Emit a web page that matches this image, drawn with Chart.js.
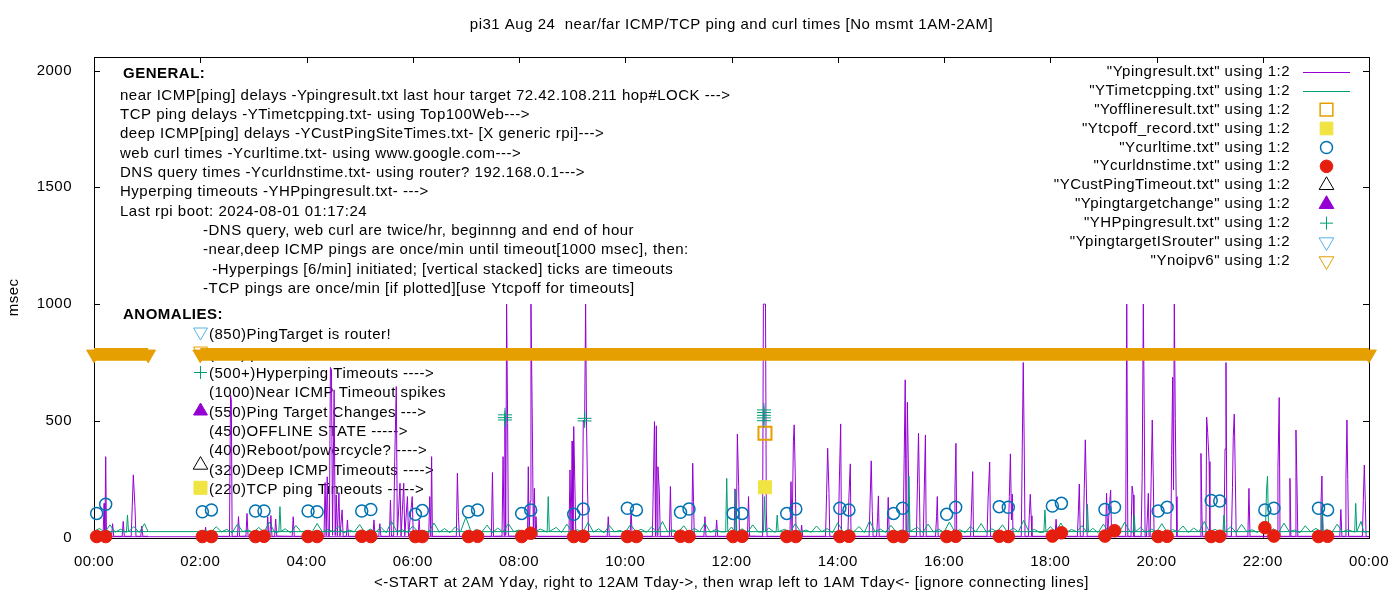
<!DOCTYPE html>
<html>
<head>
<meta charset="utf-8">
<title>pi31 ping times</title>
<script src="https://cdn.jsdelivr.net/npm/chart.js@4.4.1/dist/chart.umd.min.js"></script>
<style>
  html, body { margin: 0; padding: 0; background: #fff; }
</style>
</head>
<body>
<canvas id="pingChart" width="1400" height="600"></canvas>
<script>
// hours of day (wraps: 2AM..24, then 0..1AM), msec
const pingPoints = [
  [2.00,7],[2.08,6],[2.10,45],[2.12,6],
  [2.55,6],[2.57,611],[2.585,590],[2.60,6],
  [2.70,6],[2.72,90],[2.74,6],[2.86,7],[2.88,104],[2.90,6],
  [3.25,6],[3.27,90],[3.29,6],[3.31,7],[3.33,95],[3.35,6],
  [3.40,6],[3.42,80],[3.44,7],[3.73,6],[3.75,90],[3.77,6],
  [4.33,6],[4.35,236],[4.37,8],[4.39,261],[4.41,7],
  [4.43,6],[4.45,729],[4.47,719],[4.49,10],[4.52,633],[4.54,9],[4.56,183],[4.58,8],[4.61,193],[4.63,7],[4.67,119],[4.69,6],
  [4.75,6],[4.77,76],[4.79,6],[5.25,6],[5.27,76],[5.29,6],[5.36,6],[5.38,60],[5.40,6],
  [5.56,6],[5.58,161],[5.60,7],[5.64,8],[5.66,326],[5.69,647],[5.71,9],[5.76,233],[5.78,7],[5.83,233],[5.85,8],[5.90,176],[5.92,7],[5.99,176],[6.01,6],
  [6.10,6],[6.12,76],[6.14,6],
  [6.30,6],[6.32,176],[6.34,7],[6.355,347],[6.37,6],
  [6.82,6],[6.84,276],[6.86,90],[6.88,6],
  [7.48,6],[7.50,279],[7.52,6],
  [7.68,7],[7.70,347],[7.72,8],[7.735,519],[7.75,10],[7.767,1000],[7.786,490],[7.80,7],
  [8.16,6],[8.175,304],[8.19,8],[8.21,155],[8.225,1000],[8.25,500],[8.27,9],[8.29,211],[8.305,8],[8.32,90],[8.34,6],
  [8.94,6],[8.96,290],[8.98,8],[9.00,414],[9.015,9],[9.03,476],[9.05,240],[9.07,7],
  [9.19,7],[9.21,504],[9.235,490],[9.254,1000],[9.27,504],[9.29,204],[9.31,6],
  [9.66,6],[9.68,90],[9.70,6],[10.09,6],[10.11,119],[10.13,6],
  [10.51,6],[10.53,247],[10.55,497],[10.57,8],[10.585,479],[10.60,9],[10.615,304],[10.64,204],[10.66,6],
  [10.83,6],[10.85,219],[10.87,6],
  [11.25,6],[11.27,319],[11.285,155],[11.30,6],
  [11.48,6],[11.50,90],[11.52,6],[11.70,6],[11.72,76],[11.74,6],
  [12.05,6],[12.066,209],[12.09,8],[12.11,444],[12.135,219],[12.15,6],
  [12.30,6],[12.32,176],[12.34,7],
  [12.585,6],[12.60,1000],[12.64,1000],[12.655,110],[12.67,6],
  [13.10,6],[13.12,240],[13.14,8],[13.165,411],[13.18,483],[13.20,269],[13.215,6],
  [13.30,6],[13.32,54],[13.34,6],
  [13.77,6],[13.79,190],[13.81,383],[13.835,190],[13.85,6],
  [14.01,6],[14.03,243],[14.055,487],[14.07,6],
  [14.19,6],[14.21,173],[14.236,316],[14.25,6],
  [14.59,6],[14.61,166],[14.63,329],[14.65,111],[14.665,6],
  [14.73,6],[14.75,87],[14.765,179],[14.78,6],
  [14.93,6],[14.95,173],[14.97,6],
  [15.23,6],[15.25,336],[15.27,676],[15.285,10],[15.30,336],[15.31,580],[15.33,290],[15.345,6],
  [15.48,6],[15.50,226],[15.52,447],[15.535,226],[15.55,6],
  [15.61,6],[15.63,221],[15.65,440],[15.665,6],
  [15.84,6],[15.86,90],[15.874,176],[15.89,6],
  [16.19,6],[16.206,204],[16.225,404],[16.24,6],
  [16.50,6],[16.52,140],[16.54,283],[16.555,6],
  [16.81,6],[16.83,166],[16.86,324],[16.875,6],
  [17.21,6],[17.23,176],[17.25,359],[17.27,76],[17.285,187],[17.30,6],
  [17.455,6],[17.474,401],[17.492,750],[17.51,393],[17.525,6],
  [17.59,6],[17.605,94],[17.624,186],[17.64,94],[17.655,6],
  [18.09,6],[18.11,79],[18.13,6],
  [18.51,6],[18.53,114],[18.547,230],[18.565,6],
  [18.62,6],[18.64,209],[18.66,419],[18.68,209],[18.695,6],
  [19.04,6],[19.06,190],[19.08,6],[19.11,123],[19.137,204],[19.155,6],
  [19.42,6],[19.44,1000],[19.46,6],
  [19.52,6],[19.54,221],[19.56,183],[19.575,6],
  [19.71,6],[19.73,257],[19.752,1000],[19.77,504],[19.785,6],
  [19.81,6],[19.83,97],[19.846,190],[19.86,6],
  [19.88,6],[19.90,254],[19.92,504],[19.94,247],[19.955,6],
  [20.27,6],[20.285,351],[20.304,687],[20.32,204],[20.335,1000],[20.354,509],[20.37,176],[20.385,6],
  [20.82,6],[20.837,361],[20.856,90],[20.87,6],
  [20.93,6],[20.944,516],[20.963,451],[20.99,326],[21.005,6],
  [21.27,6],[21.29,380],[21.308,750],[21.325,6],
  [21.41,6],[21.43,216],[21.445,433],[21.464,529],[21.483,269],[21.50,6],
  [21.72,6],[21.74,211],[21.76,6],
  [22.27,6],[22.286,297],[22.31,600],[22.325,6],
  [22.495,6],[22.512,254],[22.53,6],
  [22.61,6],[22.625,461],[22.644,233],[22.66,6],
  [23.08,6],[23.096,147],[23.114,264],[23.13,6],
  [23.45,6],[23.47,121],[23.49,6],
  [23.55,6],[23.566,254],[23.585,504],[23.60,250],[23.615,6],
  [23.875,6],[23.893,159],[23.912,311],[23.93,159],[23.945,6],
  [24.00,4],
  [0.00,4],[0.17,6],[0.19,147],[0.205,8],[0.22,347],[0.235,6],
  [0.33,6],[0.35,60],[0.37,6],[0.53,6],[0.55,70],[0.57,6],
  [0.70,6],[0.72,135],[0.74,269],[0.77,135],[0.79,6],
  [0.88,6],[0.90,50],[0.92,6],[1.02,6]
];

const tcpPoints = [
  [2.0,24],[2.1,31],[2.2,22],[2.3,47],[2.4,25],[2.5,36],[2.6,21],[2.7,58],[2.8,26],[2.9,33],
  [3.0,22],[3.1,44],[3.2,24],[3.3,67],[3.4,23],[3.48,25],[3.5,133],[3.52,27],[3.6,38],[3.7,21],[3.8,52],[3.9,25],
  [4.0,30],[4.1,22],[4.2,61],[4.3,24],[4.4,35],[4.5,26],[4.6,48],[4.7,20],[4.8,33],[4.9,25],
  [5.0,56],[5.1,22],[5.2,37],[5.3,24],[5.4,45],[5.5,21],[5.6,70],[5.7,26],[5.8,34],[5.9,23],
  [6.0,50],[6.1,25],[6.2,31],[6.3,22],[6.4,63],[6.5,24],[6.6,39],[6.7,21],[6.8,46],[6.9,26],
  [7.0,88],[7.1,23],[7.2,35],[7.3,25],[7.4,54],[7.5,22],[7.6,41],[7.7,24],[7.8,60],[7.9,26],
  [8.0,33],[8.1,21],[8.2,49],[8.3,25],[8.4,37],[8.53,24],[8.55,176],[8.57,26],[8.7,44],[8.8,22],[8.9,58],
  [9.0,25],[9.1,34],[9.2,23],[9.3,66],[9.4,24],[9.5,38],[9.6,21],[9.7,52],[9.8,25],[9.9,31],
  [10.0,22],[10.1,57],[10.2,26],[10.3,36],[10.4,23],[10.5,47],[10.6,21],[10.7,69],[10.8,25],[10.9,33],
  [11.0,24],[11.1,51],[11.2,22],[11.3,40],[11.4,26],[11.5,62],[11.6,23],[11.7,35],[11.8,25],
  [11.89,25],[11.91,254],[11.93,27],[12.0,46],[12.06,26],[12.08,204],[12.10,25],
  [12.2,38],[12.3,22],[12.4,55],[12.5,25],[12.60,24],[12.62,176],[12.64,28],[12.7,42],[12.8,24],[12.84,25],[12.86,97],[12.88,26],
  [13.0,36],[13.1,22],[13.2,60],[13.3,25],[13.4,33],[13.5,23],[13.6,50],[13.7,26],[13.8,39],[13.9,21],
  [14.0,64],[14.1,24],[14.2,35],[14.3,25],[14.4,48],[14.5,22],[14.6,72],[14.7,26],[14.8,37],[14.9,23],
  [15.0,53],[15.1,25],[15.2,33],[15.32,25],[15.34,264],[15.36,27],[15.5,45],[15.6,22],[15.7,58],[15.8,25],[15.9,36],
  [16.0,23],[16.1,67],[16.2,26],[16.3,34],[16.4,22],[16.5,49],[16.6,25],[16.7,61],[16.8,23],[16.9,38],
  [17.0,26],[17.1,55],[17.2,22],[17.3,42],[17.4,25],[17.5,74],[17.6,24],[17.7,36],[17.8,22],[17.88,24],[17.90,119],[17.92,26],
  [18.0,47],[18.1,25],[18.2,63],[18.3,23],[18.4,35],[18.5,26],[18.6,52],[18.68,25],[18.70,143],[18.72,24],[18.8,40],[18.9,22],
  [19.0,58],[19.1,25],[19.2,34],[19.3,23],[19.4,66],[19.5,26],[19.56,24],[19.58,97],[19.60,25],[19.7,44],[19.8,22],[19.9,37],
  [20.0,25],[20.1,60],[20.2,23],[20.3,35],[20.4,26],[20.5,50],[20.6,22],[20.7,41],[20.8,25],[20.9,69],
  [21.0,24],[21.1,36],[21.2,22],[21.25,23],[21.27,97],[21.29,25],[21.4,47],[21.5,23],[21.6,57],[21.7,26],[21.8,34],[21.9,22],
  [22.0,45],[22.05,24],[22.07,200],[22.09,264],[22.11,25],[22.2,38],[22.3,23],[22.4,62],[22.5,26],[22.6,33],[22.7,21],[22.8,51],[22.9,25],
  [23.0,40],[23.10,24],[23.12,140],[23.14,25],[23.2,36],[23.3,22],[23.4,58],[23.5,25],[23.6,34],[23.73,24],[23.75,147],[23.77,26],[23.85,70],[23.9,24],[24.0,26],
  [0.0,26],[0.1,40],[0.2,22],[0.3,55],[0.4,24],[0.5,36],[0.61,23],[0.63,97],[0.65,25],[0.75,48],[0.85,22],[0.95,60],[1.02,25]
];

const offlinePoints = [[12.63, 447]];
const tcpOffPoints = [[12.63, 216]];

const curlHours = [0.05,0.22,2.04,2.21,3.04,3.20,4.03,4.20,5.04,5.21,6.05,6.18,7.05,7.22,8.05,8.22,9.03,9.21,
  10.04,10.21,11.04,11.20,12.03,12.20,13.04,13.21,14.04,14.21,15.05,15.22,16.05,16.22,17.04,17.21,18.04,18.21,
  19.03,19.21,20.03,20.20,21.03,21.19,22.04,22.21,23.05,23.22];
const curlMsec = [104,143,111,119,114,114,114,111,114,121,100,116,111,119,104,119,100,123,
  126,119,109,123,104,104,104,123,126,119,104,126,100,130,133,130,136,147,
  121,130,114,130,159,157,119,126,126,119];
const dnsMsec = [5,5,5,5,5,6,5,5,6,5,5,5,5,6,5,19,5,6,
  5,5,6,5,5,6,5,5,5,6,5,5,5,6,6,5,7,21,
  7,30,5,6,5,6,43,7,5,6];

const custPingTimeoutPoints = [];
const targetChangePoints = [];
const hpPingPoints = [[7.736,504],[7.736,514],[7.736,526],[9.235,500],[9.235,511],
  [12.61,501],[12.61,513],[12.61,524],[12.61,536],[12.61,547]];
const targetIsRouterPoints = [];
// ipv6 failed once/min over these stretches (null = no measurement 1AM-2AM)
const noIpv6Points = [[0,785],[1.02,785],[1.5,null],[2.0,785],[24,785]];

const xTickValues = [0, 2, 4, 6, 8, 10, 12, 14, 16, 18, 20, 22, 24];
const yTickValues = [0, 500, 1000, 1500, 2000];

const titleText = 'pi31 Aug 24  near/far ICMP/TCP ping and curl times [No msmt 1AM-2AM]';
const xTitle = '<-START at 2AM Yday, right to 12AM Tday->, then wrap left to 1AM Tday<- [ignore connecting lines]';
const generalLines = [
  'near ICMP[ping] delays -Ypingresult.txt last hour target 72.42.108.211 hop#LOCK --->',
  'TCP ping delays -YTimetcpping.txt- using Top100Web--->',
  'deep ICMP[ping] delays -YCustPingSiteTimes.txt- [X generic rpi]--->',
  'web curl times -Ycurltime.txt- using www.google.com--->',
  'DNS query times -Ycurldnstime.txt- using router? 192.168.0.1--->',
  'Hyperping timeouts -YHPpingresult.txt- --->',
  'Last rpi boot: 2024-08-01 01:17:24'
];
const noteLines = [
  '-DNS query, web curl are twice/hr, beginnng and end of hour',
  '-near,deep ICMP pings are once/min until timeout[1000 msec], then:',
  '  -Hyperpings [6/min] initiated; [vertical stacked] ticks are timeouts',
  '-TCP pings are once/min [if plotted][use Ytcpoff for timeouts]'
];
const anomalyLines = [
  '(850)PingTarget is router!',
  '(785)ipv6 failed ---->',
  '(500+)Hyperping Timeouts ---->',
  '(1000)Near ICMP Timeout spikes',
  '(550)Ping Target Changes --->',
  '(450)OFFLINE STATE ----->',
  '(400)Reboot/powercycle? ---->',
  '(320)Deep ICMP Timeouts ---->',
  '(220)TCP ping Timeouts ----->'
];

const FAMILY = '"Liberation Sans", Arial, sans-serif';
const FONT = '15px ' + FAMILY;
const BOLD = 'bold 15px ' + FAMILY;
const SPACING = '0.5px';

const toXY = pts => pts.map(p => ({ x: p[0], y: p[1] }));

function drawSymbol(ctx, s, x, y) {
  ctx.save();
  ctx.strokeStyle = s.color;
  ctx.fillStyle = s.color;
  ctx.lineWidth = s.lw || 1;
  ctx.beginPath();
  const r = s.r;
  if (s.kind === 'circle') {
    ctx.arc(x, y, r, 0, Math.PI * 2);
  } else if (s.kind === 'rect') {
    const h = r * Math.SQRT1_2;
    ctx.rect(x - h, y - h, 2 * h, 2 * h);
  } else if (s.kind === 'triangle' || s.kind === 'triangleDown') {
    const rot = s.kind === 'triangle' ? 0 : Math.PI;
    for (let i = 0; i < 3; i++) {
      const a = rot + i * 2 * Math.PI / 3;
      const px = x + Math.sin(a) * r, py = y - Math.cos(a) * r;
      if (i) ctx.lineTo(px, py); else ctx.moveTo(px, py);
    }
    ctx.closePath();
  } else if (s.kind === 'cross') {
    ctx.moveTo(x - r, y); ctx.lineTo(x + r, y);
    ctx.moveTo(x, y - r); ctx.lineTo(x, y + r);
  }
  if (s.filled) ctx.fill();
  ctx.stroke();
  ctx.restore();
}

const anomalySymbols = [
  { kind: 'triangleDown', r: 8, color: '#56b4e9', y: 332 },
  { kind: 'triangleDown', r: 8, color: '#e69f00', y: 351 },
  { kind: 'cross', r: 6.5, color: '#009e73', y: 372.5 },
  null,
  { kind: 'triangle', r: 8, color: '#9400d3', filled: true, y: 411 },
  null,
  null,
  { kind: 'triangle', r: 8.4, color: '#000', y: 465 },
  { kind: 'rect', r: 9.2, color: '#f0e442', filled: true, y: 487.8 }
];

const gnuFrame = {
  id: 'gnuFrame',
  beforeDraw(chart) {
    // gnuplot text runs a little wider than canvas text
    chart.ctx.letterSpacing = SPACING;
  },
  beforeDatasetsDraw(chart) {
    const { ctx, chartArea: a, scales: { x, y } } = chart;
    ctx.save();
    ctx.strokeStyle = '#000';
    ctx.lineWidth = 1;
    ctx.strokeRect(Math.round(a.left) + 0.5, Math.round(a.top) + 0.5,
      Math.round(a.right - a.left), Math.round(a.bottom - a.top));
    ctx.beginPath();
    x.ticks.forEach(t => {
      const px = Math.round(x.getPixelForValue(t.value)) + 0.5;
      ctx.moveTo(px, a.bottom); ctx.lineTo(px, a.bottom - 6);
      ctx.moveTo(px, a.top); ctx.lineTo(px, a.top + 6);
    });
    y.ticks.forEach(t => {
      const py = Math.round(y.getPixelForValue(t.value)) + 0.5;
      ctx.moveTo(a.left, py); ctx.lineTo(a.left + 6, py);
      ctx.moveTo(a.right, py); ctx.lineTo(a.right - 6, py);
    });
    ctx.stroke();

    ctx.fillStyle = '#000';
    ctx.textBaseline = 'middle';
    ctx.textAlign = 'left';
    ctx.letterSpacing = SPACING;
    ctx.font = BOLD;
    ctx.fillText('GENERAL:', 123, 74.2);
    ctx.fillText('ANOMALIES:', 123, 315.3);
    ctx.font = FONT;
    generalLines.forEach((t, i) => ctx.fillText(t, 120, 95.7 + i * 19.3));
    noteLines.forEach((t, i) => ctx.fillText(t, 203, 230.8 + i * 19.3));
    anomalyLines.forEach((t, i) => {
      ctx.fillText(t, 209, 335.3 + i * 19.3);
      const s = anomalySymbols[i];
      if (s) drawSymbol(ctx, s, 200.5, s.y);
    });
    ctx.restore();
  },
  afterDraw(chart) {
    const { ctx } = chart;
    ctx.save();
    ctx.font = FONT;
    ctx.letterSpacing = SPACING;
    ctx.textBaseline = 'middle';
    ctx.textAlign = 'right';
    chart.data.datasets.forEach((ds, i) => {
      const yy = 71.7 + i * 18.93;
      ctx.fillStyle = '#000';
      ctx.fillText(ds.label, 1290, yy);
      const k = ds.key;
      if (k.kind === 'line') {
        ctx.strokeStyle = k.color;
        ctx.lineWidth = 1;
        ctx.beginPath();
        ctx.moveTo(1303, Math.round(yy) + 0.5);
        ctx.lineTo(1350, Math.round(yy) + 0.5);
        ctx.stroke();
      } else {
        drawSymbol(ctx, k, 1326.5, yy);
      }
    });
    ctx.restore();
  }
};

const pointSet = (label, data, style, order, key) => Object.assign({
  label, data: toXY(data), showLine: false, order, clip: false, key
}, style);

const datasets = [
  { label: '"Ypingresult.txt" using 1:2', data: toXY(pingPoints), borderColor: '#9400d3', borderWidth: 1,
    pointRadius: 0, borderJoinStyle: 'round', order: 11, key: { kind: 'line', color: '#9400d3' } },
  { label: '"YTimetcpping.txt" using 1:2', data: toXY(tcpPoints), borderColor: '#009e73', borderWidth: 1,
    pointRadius: 0, borderJoinStyle: 'round', order: 10, key: { kind: 'line', color: '#009e73' } },
  pointSet('"Yofflineresult.txt" using 1:2', offlinePoints,
    { pointStyle: 'rect', pointRadius: 9.2, pointBorderColor: '#e69f00', pointBackgroundColor: 'rgba(0,0,0,0)', pointBorderWidth: 2 }, 9,
    { kind: 'rect', r: 9, color: '#e69f00', lw: 1.5 }),
  pointSet('"Ytcpoff_record.txt" using 1:2', tcpOffPoints,
    { pointStyle: 'rect', pointRadius: 9.2, pointBorderColor: '#f0e442', pointBackgroundColor: '#f0e442', pointBorderWidth: 1 }, 8,
    { kind: 'rect', r: 9, color: '#f0e442', filled: true }),
  pointSet('"Ycurltime.txt" using 1:2', curlHours.map((h, i) => [h, curlMsec[i]]),
    { pointStyle: 'circle', pointRadius: 6, pointBorderColor: '#0072b2', pointBackgroundColor: 'rgba(0,0,0,0)', pointBorderWidth: 1.5 }, 7,
    { kind: 'circle', r: 6, color: '#0072b2', lw: 1.5 }),
  pointSet('"Ycurldnstime.txt" using 1:2', curlHours.map((h, i) => [h, dnsMsec[i]]),
    { pointStyle: 'circle', pointRadius: 6.3, pointBorderColor: '#e51e10', pointBackgroundColor: '#e51e10', pointBorderWidth: 1 }, 6,
    { kind: 'circle', r: 6.3, color: '#e51e10', filled: true }),
  pointSet('"YCustPingTimeout.txt" using 1:2', custPingTimeoutPoints,
    { pointStyle: 'triangle', pointRadius: 8.5, pointBorderColor: '#000', pointBackgroundColor: 'rgba(0,0,0,0)' }, 5,
    { kind: 'triangle', r: 8.5, color: '#000' }),
  pointSet('"Ypingtargetchange" using 1:2', targetChangePoints,
    { pointStyle: 'triangle', pointRadius: 8.5, pointBorderColor: '#9400d3', pointBackgroundColor: '#9400d3' }, 4,
    { kind: 'triangle', r: 8.5, color: '#9400d3', filled: true }),
  pointSet('"YHPpingresult.txt" using 1:2', hpPingPoints,
    { pointStyle: 'cross', pointRadius: 7, pointBorderColor: '#009e73', pointBorderWidth: 1 }, 3,
    { kind: 'cross', r: 6.5, color: '#009e73' }),
  pointSet('"YpingtargetISrouter" using 1:2', targetIsRouterPoints,
    { pointStyle: 'triangle', pointRotation: 180, pointRadius: 8.5, pointBorderColor: '#56b4e9', pointBackgroundColor: 'rgba(0,0,0,0)' }, 2,
    { kind: 'triangleDown', r: 8.5, color: '#56b4e9' }),
  { label: '"Ynoipv6" using 1:2', data: toXY(noIpv6Points), borderColor: '#e69f00', borderWidth: 12.7,
    borderCapStyle: 'butt', spanGaps: false, pointStyle: 'triangle', pointRotation: 180, pointRadius: 8.5,
    pointBorderColor: '#e69f00', pointBackgroundColor: '#e69f00', pointBorderWidth: 1, clip: false, order: 1,
    key: { kind: 'triangleDown', r: 8.5, color: '#e69f00' } }
];

const axisFont = { family: FAMILY, size: 15 };

new Chart(document.getElementById('pingChart'), {
  type: 'line',
  data: { datasets },
  options: {
    responsive: false,
    devicePixelRatio: 1,
    animation: false,
    events: [],
    layout: { padding: { left: 0, right: 31, top: 0, bottom: 0 } },
    plugins: {
      legend: { display: false },
      tooltip: { enabled: false },
      title: {
        display: true,
        fullSize: false,
        text: titleText,
        color: '#000',
        font: { family: FAMILY, size: 15, weight: 'normal', lineHeight: 1.2 },
        padding: { top: 16, bottom: 23 }
      }
    },
    scales: {
      x: {
        type: 'linear',
        min: 0,
        max: 24,
        grid: { display: false },
        border: { display: false },
        afterBuildTicks: s => { s.ticks = xTickValues.map(v => ({ value: v })); },
        ticks: {
          autoSkip: false,
          maxRotation: 0,
          padding: 7,
          color: '#000',
          font: axisFont,
          callback: v => String(v % 24).padStart(2, '0') + ':00'
        },
        title: {
          display: true,
          text: xTitle,
          color: '#000',
          font: axisFont,
          padding: { top: 0, bottom: 8 }
        },
        afterFit: s => { s.height = 62.3; }
      },
      y: {
        min: 0,
        max: 2058,
        grid: { display: false },
        border: { display: false },
        afterBuildTicks: s => { s.ticks = yTickValues.map(v => ({ value: v })); },
        ticks: {
          padding: 14,
          color: '#000',
          font: axisFont,
          callback: v => String(v)
        },
        title: {
          display: true,
          text: 'msec',
          color: '#000',
          font: axisFont,
          padding: { top: 5, bottom: 0 }
        },
        afterFit: s => { s.width = 94; }
      }
    }
  },
  plugins: [gnuFrame]
});
</script>
</body>
</html>
